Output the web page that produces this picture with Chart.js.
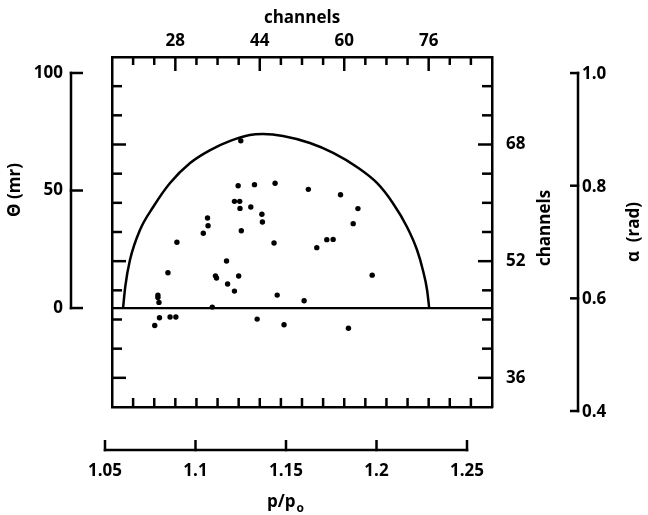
<!DOCTYPE html>
<html>
<head>
<meta charset="utf-8">
<script src="https://cdn.jsdelivr.net/npm/chart.js@4.4.0/dist/chart.umd.min.js"></script>
<style>
  html, body { margin: 0; padding: 0; background: #fff; }
</style>
</head>
<body>
<canvas id="acceptChart" width="648" height="515"></canvas>
<script>
// acceptance plot: theta vs channels, with the p/p0 and alpha side scales

// tick labels
const topChannelLabels = [28, 44, 60, 76];
const rightChannelLabels = [36, 52, 68];
const thetaTicks = [0, 50, 100];
const alphaTicks = [0.4, 0.6, 0.8, 1.0];
const pTicks = [1.05, 1.1, 1.15, 1.2, 1.25];

// measured events (x in channels, y in mr)
const eventCh = [40.4, 39.9, 43.0, 46.9, 53.2, 39.2, 40.2, 40.25, 42.3, 44.4, 44.5, 34.1, 34.2, 33.3, 40.5,
  28.3, 46.7, 54.8, 59.3, 62.6, 61.7, 56.7, 57.9, 65.3, 52.4, 60.8, 37.7, 26.6, 35.6, 35.8,
  40.0, 37.9, 39.2, 24.7, 24.7, 24.9, 47.3, 35.0, 25.0, 24.1, 27.0, 28.1, 43.5, 48.6];
const eventTheta = [71.2, 52.0, 52.5, 53.1, 50.5, 45.4, 45.4, 42.4, 43.0, 39.9, 36.6, 38.3, 35.0, 31.8, 32.9,
  28.0, 27.7, 25.7, 48.2, 42.3, 35.9, 29.1, 29.2, 14.0, 3.1, -8.6, 20.0, 15.0, 13.7, 12.8,
  13.6, 10.2, 7.2, 5.5, 4.5, 2.4, 5.5, 0.4, -4.1, -7.4, -3.8, -3.8, -4.7, -7.1];

// acceptance boundary
const boundaryCh = [18.1, 18.5, 19.4, 21.3, 23.8, 27.0, 30.8, 34.6, 38.4, 42.1, 44.6, 48.4, 53.5, 57.9,
  62.4, 66.2, 69.2, 71.9, 73.8, 74.9, 75.7, 76.1];
const boundaryTheta = [0, 8.9, 20.4, 33.2, 43.0, 53.2, 61.7, 67.2, 71.1, 73.6, 74.0, 73.2, 70.2, 66.0,
  60.0, 53.2, 44.7, 34.5, 24.7, 16.2, 7.7, 0];

// theta = 0 reference line
const zeroLineCh = [16, 88];
const zeroLineTheta = [0, 0];

const INK = "#000";
const FONT_FAMILY = "'Open Sans', 'DejaVu Sans', sans-serif";
const LABEL_FONT = { family: FONT_FAMILY, size: 17, weight: "bold" };

function toPoints(xs, ys) {
  return xs.map((x, i) => ({ x: x, y: ys[i] }));
}

function strokeLine(ctx, x1, y1, x2, y2) {
  ctx.beginPath();
  ctx.moveTo(x1, y1);
  ctx.lineTo(x2, y2);
  ctx.stroke();
}

function verticalText(ctx, text, x, y) {
  ctx.save();
  ctx.translate(x, y);
  ctx.rotate(-Math.PI / 2);
  ctx.textAlign = "center";
  ctx.textBaseline = "middle";
  ctx.fillText(text, 0, 0);
  ctx.restore();
}

// frame ticks (inward) and the detached theta / alpha / p/p0 axes
const sideAxesPlugin = {
  id: "sideAxes",
  afterDraw(chart) {
    const { ctx, chartArea: a, scales } = chart;
    const xs = scales.x, ys = scales.y;
    ctx.save();
    ctx.strokeStyle = INK;
    ctx.fillStyle = INK;
    ctx.lineWidth = 2.5;
    ctx.font = "bold 17px " + FONT_FAMILY;

    // inward ticks on top / bottom of frame
    xs.ticks.forEach((t) => {
      if (t.value <= xs.min || t.value >= xs.max) return;
      const px = xs.getPixelForValue(t.value);
      const len = topChannelLabels.includes(t.value) ? 14 : 8;
      strokeLine(ctx, px, a.top, px, a.top + len);
      strokeLine(ctx, px, a.bottom, px, a.bottom - 9);
    });

    // inward ticks on left / right of frame
    ys.ticks.forEach((t) => {
      if (t.value <= ys.min || t.value >= ys.max) return;
      const py = ys.getPixelForValue(t.value);
      const len = rightChannelLabels.includes(t.value) ? 14 : 10;
      strokeLine(ctx, a.right, py, a.right - len, py);
      strokeLine(ctx, a.left, py, a.left + len, py);
    });

    // theta (mr) axis on the left
    const yT = scales.yTheta;
    const thetaX = 71;
    strokeLine(ctx, thetaX, yT.getPixelForValue(thetaTicks[0]) + 1.25, thetaX, yT.getPixelForValue(thetaTicks[thetaTicks.length - 1]) - 1.25);
    ctx.textAlign = "right";
    ctx.textBaseline = "middle";
    thetaTicks.forEach((v) => {
      const py = yT.getPixelForValue(v);
      strokeLine(ctx, thetaX - 1.25, py, thetaX + 12, py);
      ctx.fillText(String(v), thetaX - 8, py);
    });
    verticalText(ctx, "\u0398 (mr)", 15, 190);

    // alpha (rad) axis on the right
    const yA = scales.yAlpha;
    const alphaX = 578;
    strokeLine(ctx, alphaX, yA.getPixelForValue(alphaTicks[0]) + 1.25, alphaX, yA.getPixelForValue(alphaTicks[alphaTicks.length - 1]) - 1.25);
    ctx.textAlign = "left";
    alphaTicks.forEach((v) => {
      const py = yA.getPixelForValue(v);
      strokeLine(ctx, alphaX + 1.25, py, alphaX - 8, py);
      ctx.fillText(v === 1 ? "1.0" : v.toFixed(1), alphaX + 4, py + 1);
    });
    verticalText(ctx, "\u03b1  (rad)", 634, 232);

    // right channels title
    verticalText(ctx, "channels", 545, 228);

    // p/p0 axis below
    const xP = scales.xP;
    const pY = 450;
    strokeLine(ctx, xP.getPixelForValue(pTicks[0]) - 1.25, pY, xP.getPixelForValue(pTicks[pTicks.length - 1]) + 1.25, pY);
    ctx.textAlign = "center";
    pTicks.forEach((v) => {
      const px = xP.getPixelForValue(v);
      strokeLine(ctx, px, pY + 1.25, px, pY - 10);
      ctx.fillText(String(v), px, 471);
    });

    // p/p0 title with subscript o
    const main = "p/p";
    const w1 = ctx.measureText(main).width;
    ctx.font = "bold 12px " + FONT_FAMILY;
    const w2 = ctx.measureText("o").width;
    const startX = 285 - (w1 + w2) / 2;
    ctx.textAlign = "left";
    ctx.textBaseline = "alphabetic";
    ctx.fillText("o", startX + w1 + 1, 512);
    ctx.font = "bold 17px " + FONT_FAMILY;
    ctx.fillText(main, startX, 507);

    ctx.restore();
  }
};

function frameAxis(extra) {
  return Object.assign({
    type: "linear",
    grid: { display: true, drawOnChartArea: false, drawTicks: false },
    border: { display: true, color: INK, width: 2.5 }
  }, extra);
}

function createAcceptanceChart() {
  const ctx = document.getElementById("acceptChart");
  if (!ctx) return;

  new Chart(ctx, {
    type: "scatter",
    data: {
      datasets: [
        {
          label: "events",
          data: toPoints(eventCh, eventTheta),
          xAxisID: "x",
          yAxisID: "yTheta",
          backgroundColor: INK,
          borderWidth: 0,
          pointRadius: 2.7,
          showLine: false
        },
        {
          label: "boundary",
          data: toPoints(boundaryCh, boundaryTheta),
          xAxisID: "x",
          yAxisID: "yTheta",
          showLine: true,
          borderColor: INK,
          borderWidth: 2.5,
          pointRadius: 0,
          cubicInterpolationMode: "monotone",
          fill: false
        },
        {
          label: "zero",
          data: toPoints(zeroLineCh, zeroLineTheta),
          xAxisID: "x",
          yAxisID: "yTheta",
          showLine: true,
          borderColor: INK,
          borderWidth: 2.2,
          pointRadius: 0,
          fill: false
        }
      ]
    },
    options: {
      responsive: false,
      animation: false,
      layout: { padding: { left: 112, top: 0, right: 96, bottom: 108 } },
      plugins: {
        legend: { display: false },
        tooltip: { enabled: false }
      },
      scales: {
        x: frameAxis({
          position: "top",
          min: 16,
          max: 88,
          ticks: {
            stepSize: 4,
            autoSkip: false,
            maxRotation: 0,
            padding: 6,
            color: INK,
            font: LABEL_FONT,
            callback: (v) => (topChannelLabels.includes(v) ? String(v) : "")
          },
          title: { display: true, text: "channels", color: INK, font: LABEL_FONT, padding: { top: 8, bottom: 0 } },
          afterFit: (s) => { s.height = 57; }
        }),
        y: frameAxis({
          position: "right",
          min: 32,
          max: 80,
          ticks: {
            stepSize: 4,
            autoSkip: false,
            padding: 14,
            color: INK,
            font: LABEL_FONT,
            callback: (v) => (rightChannelLabels.includes(v) ? String(v) : "")
          },
          afterFit: (s) => { s.width = 60; }
        }),
        yTheta: frameAxis({
          position: "left",
          min: -42.1,
          max: 106.8,
          ticks: { display: false },
          afterFit: (s) => { s.width = 0; }
        }),
        xP: frameAxis({
          position: "bottom",
          min: 1.05387,
          max: 1.26381,
          ticks: { display: false },
          afterFit: (s) => { s.height = 0; }
        }),
        yAlpha: {
          type: "linear",
          display: false,
          position: "right",
          min: 0.4071,
          max: 1.0285
        }
      }
    },
    plugins: [sideAxesPlugin]
  });
}

window.addEventListener("DOMContentLoaded", () => {
  createAcceptanceChart();
});
</script>
</body>
</html>
